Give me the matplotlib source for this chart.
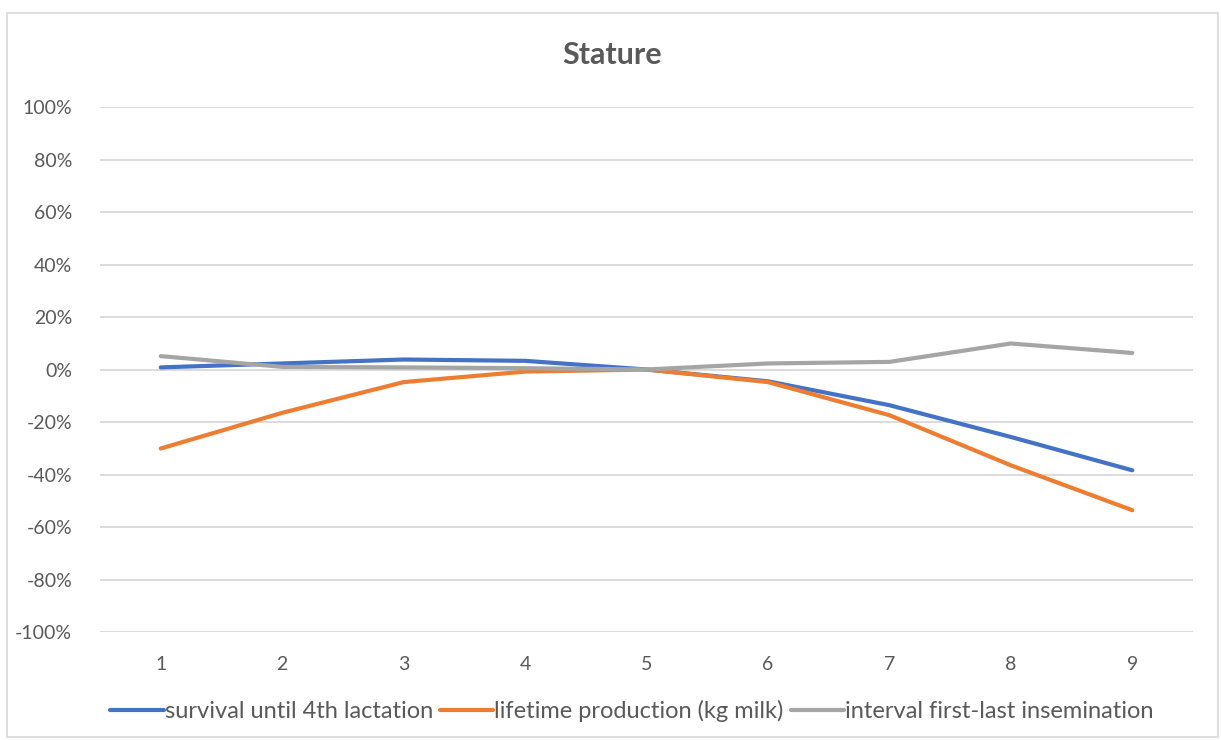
import matplotlib.pyplot as plt
from matplotlib.patches import Rectangle
from matplotlib.ticker import FuncFormatter

plt.rcParams['font.family'] = ['Lato', 'DejaVu Sans']

categories = [1, 2, 3, 4, 5, 6, 7, 8, 9]
survival = [0.8, 2.3, 3.8, 3.3, 0.0, -4.5, -13.6, -25.7, -38.4]
lifetime = [-30.1, -16.5, -4.8, -0.8, 0.0, -4.8, -17.4, -36.5, -53.6]
interval = [5.1, 1.0, 0.8, 0.5, 0.0, 2.3, 2.9, 9.9, 6.3]
series_names = ['survival until 4th lactation',
                'lifetime production (kg milk)',
                'interval first-last insemination']
y_ticks = [-100, -80, -60, -40, -20, 0, 20, 40, 60, 80, 100]

text_color = '#595959'
grid_color = '#D9D9D9'
colors = ['#4472C4', '#ED7D31', '#A5A5A5']

fig = plt.figure(figsize=(12.21, 7.40), dpi=100)
W, H = 1221, 740

# chart frame
fig.patches.append(Rectangle((7 / W, 1 - 737 / H), (1218 - 7) / W, (737 - 13) / H,
                             transform=fig.transFigure, fill=False,
                             edgecolor=grid_color, linewidth=1.2))

ax = fig.add_axes([100 / W, 1 - 632 / H, (1193 - 100) / W, (632 - 107) / H])

for vals, name, c in zip([survival, lifetime, interval], series_names, colors):
    ax.plot(categories, vals, color=c, linewidth=3, label=name,
            solid_capstyle='round', solid_joinstyle='round')

ax.set_xlim(0.5, 9.5)
ax.set_ylim(-100, 100)
ax.set_xticks(categories)
ax.set_yticks(y_ticks)
ax.yaxis.set_major_formatter(FuncFormatter(lambda v, p: f'{v:.0f}%'))
ax.grid(axis='y', color=grid_color, linewidth=1.3)
ax.set_axisbelow(True)
for s in ax.spines.values():
    s.set_visible(False)
ax.tick_params(axis='both', length=0, labelsize=14, labelcolor=text_color)
ax.tick_params(axis='y', pad=20)
ax.tick_params(axis='x', pad=17)

fig.text(612.5 / W, 1 - 55 / H, 'Stature', ha='center', va='center',
         fontsize=22, fontweight='bold', color=text_color)

fig.legend(loc='center', bbox_to_anchor=(632 / W, 1 - 711 / H), ncol=3,
           frameon=False, fontsize=17, handlelength=2.25, handletextpad=0.05,
           columnspacing=0.3, labelcolor=text_color)

fig.savefig('out.png', dpi=100)
